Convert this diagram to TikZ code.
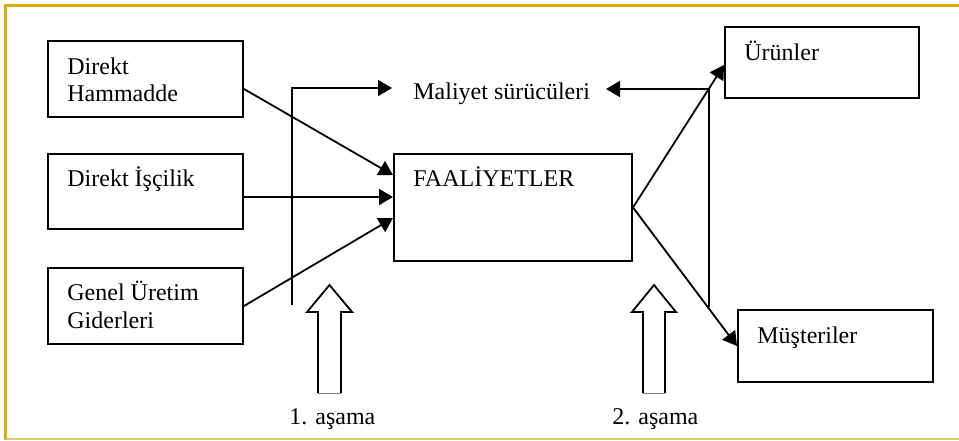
\documentclass[tikz,border=0pt]{standalone}
\usepackage{fontspec}
\setmainfont{Liberation Serif}
\usetikzlibrary{arrows.meta}
\definecolor{goldline}{RGB}{218,172,20}
\definecolor{goldlight}{RGB}{228,200,110}
\begin{document}
\begin{tikzpicture}[x=0.5pt,y=-0.5pt,
  font=\fontsize{12}{14}\selectfont,
  box/.style={draw, line width=1pt, inner sep=0pt, rectangle},
  lbl/.style={anchor=base west, inner sep=0pt},
  arr/.style={line width=0.9pt, -{Triangle[length=7pt,width=8pt]}},
  ln/.style={line width=0.9pt},
  bigarrow/.style={line width=0.9pt, fill=white}]
\useasboundingbox (0,0) rectangle (959,440);
% frame
\draw[goldline, line width=1.5pt] (5.5,440) -- (5.5,5) -- (959,5);
\draw[goldlight, line width=0.8pt] (5.5,439) -- (959,439);
% boxes
\node[box, minimum width=97.5pt, minimum height=38pt] (hm) at (145.5,79) {};
\node[box, minimum width=97.5pt, minimum height=37.5pt] (is) at (145.5,191.5) {};
\node[box, minimum width=97.5pt, minimum height=38pt] (gu) at (145.5,306) {};
\node[box, minimum width=119pt, minimum height=53.5pt] (fa) at (513,207.5) {};
\node[box, minimum width=97pt, minimum height=35.5pt] (ur) at (822,62.5) {};
\node[box, minimum width=97.5pt, minimum height=36pt] (mu) at (835.5,346) {};
% texts
\node[lbl] (t1) at (67,74) {Direkt};
\node[lbl] (t2) at (67,101) {Hammadde};
\node[lbl] (t3) at (67,186) {Direkt İşçilik};
\node[lbl] (t4) at (67,300) {Genel Üretim};
\node[lbl] (t5) at (67,328) {Giderleri};
\node[lbl] (t6) at (413,186) {FAALİYETLER};
\node[lbl] (ms) at (413,99) {Maliyet sürücüleri};
\node[lbl] (t7) at (744,60) {Ürünler};
\node[lbl] (t8) at (757,343) {Müşteriler};
\node[lbl] (a1) at (289,424) {1. aşama};
\node[lbl] (a2) at (612,424) {2. aşama};
% connectors into FAALIYETLER
\draw[arr] (hm.east |- 0,89) -- (fa.west |- 0,175);
\draw[arr] (is.east |- 0,197) -- (fa.west |- 0,197);
\draw[arr] (gu.east |- 0,306) -- (fa.west |- 0,218);
% cost driver lines
\coordinate (v1b) at (292,305);
\coordinate (v1t) at (292,88);
\coordinate (mL) at (392,88);
\draw[arr] (v1b) -- (v1t) -- (mL);
\coordinate (v2b) at (709,307);
\coordinate (v2t) at (709,89);
\coordinate (mR) at (606,89);
\draw[arr] (v2b) -- (v2t) -- (mR);
% outputs
\draw[arr] (fa.east) -- (ur.west |- 0,65);
\draw[arr] (fa.east) -- (mu.west);
% hollow arrows
\draw[bigarrow] (318,393) -- (318,312) -- (307,312) -- (329.5,285) -- (352,312) -- (341,312) -- (341,393);
\draw[gray, line width=0.5pt] (318,393) -- (341,393);
\draw[bigarrow] (643,393) -- (643,312) -- (632,312) -- (654,285) -- (676,312) -- (665,312) -- (665,393);
\draw[gray, line width=0.5pt] (643,393) -- (665,393);
\end{tikzpicture}
\end{document}
